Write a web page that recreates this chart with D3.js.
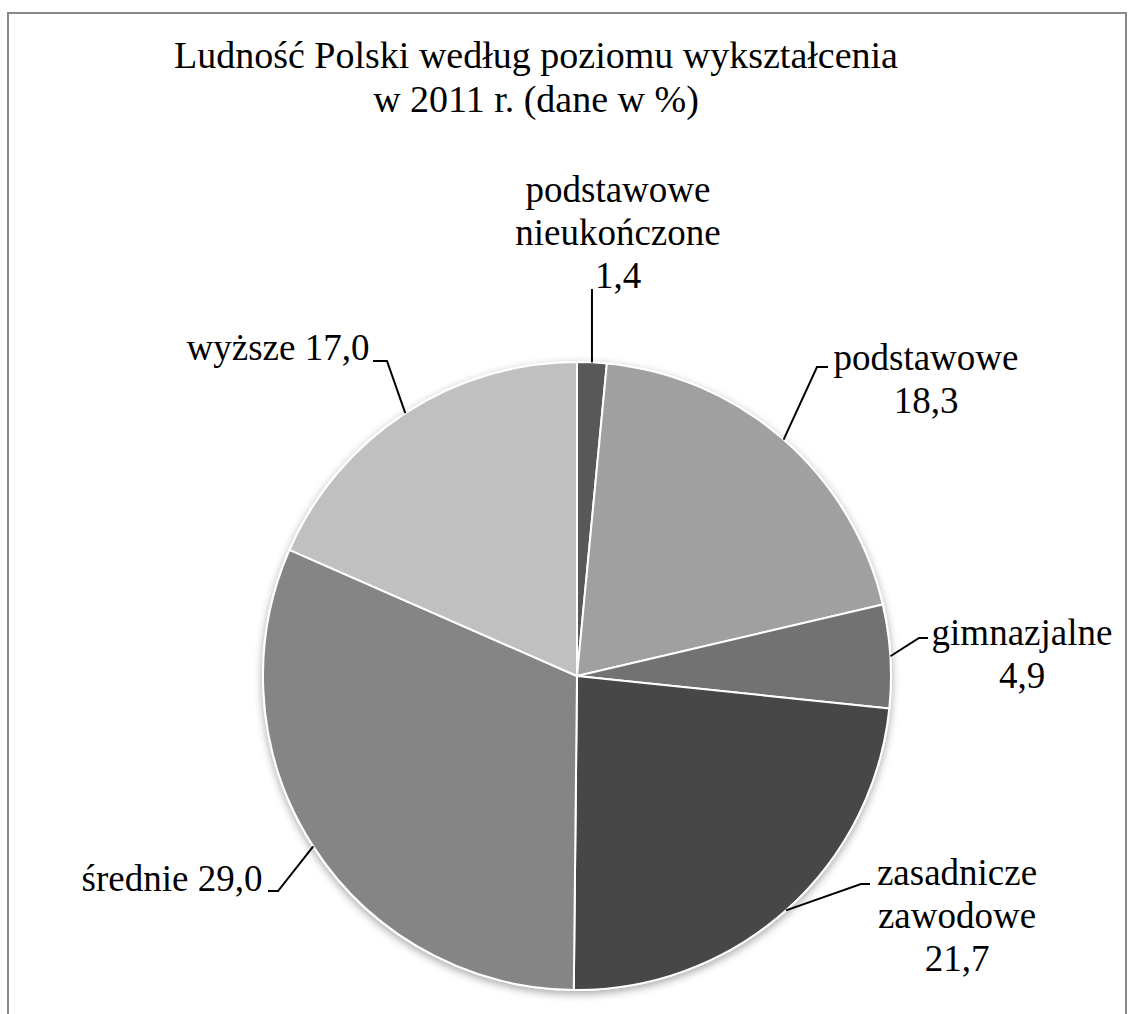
<!DOCTYPE html>
<html>
<head>
<meta charset="utf-8">
<script src="https://cdn.jsdelivr.net/npm/d3@7"></script>
<style>
  html, body { margin: 0; padding: 0; background: #fff; }
  svg { display: block; }
</style>
</head>
<body>
<svg id="chart" width="1133" height="1014"></svg>
<script>
// ---- data ----
const categories = ["podstawowe nieukończone", "podstawowe", "gimnazjalne", "zasadnicze zawodowe", "średnie", "wyższe"];
const values = [1.4, 18.3, 4.9, 21.7, 29.0, 17.0];
const valueLabels = ["1,4", "18,3", "4,9", "21,7", "29,0", "17,0"];
const labelLines = [
  ["podstawowe", "nieukończone", "1,4"],
  ["podstawowe", "18,3"],
  ["gimnazjalne", "4,9"],
  ["zasadnicze", "zawodowe", "21,7"],
  ["średnie 29,0"],
  ["wyższe 17,0"]
];
const titleLines = ["Ludność Polski według poziomu wykształcenia", "w 2011 r. (dane w %)"];

// ---- style / layout ----
const colors = ["#585858", "#a0a0a0", "#727272", "#464646", "#858585", "#c0c0c0"];
const cx = 577, cy = 676, R = 314;
const fontFamily = "'Liberation Serif', 'Times New Roman', serif";
const lineGap = 43;
// label anchor: text center x, first baseline y; leader: elbow points from label side
const labelLayout = [
  { x: 618, y: 202, leader: [[null, 289]] },
  { x: 926, y: 370, leader: [[828, 367], [817, 367]] },
  { x: 1022, y: 645, leader: [[928, 638], [919, 638]] },
  { x: 957, y: 885, leader: [[870, 884], [861, 884]] },
  { x: 172, y: 891, leader: [[268, 891], [278, 891]] },
  { x: 278, y: 360, leader: [[373, 361], [387, 361]] }
];

const svg = d3.select("#chart");

// shadow filter
const defs = svg.append("defs");
const f = defs.append("filter").attr("id", "shadow").attr("x", "-20%").attr("y", "-20%").attr("width", "140%").attr("height", "140%");
f.append("feDropShadow").attr("dx", 0).attr("dy", 3).attr("stdDeviation", 4).attr("flood-color", "#000").attr("flood-opacity", 0.35);

// outer border
svg.append("rect")
  .attr("x", 8).attr("y", 13).attr("width", 1118).attr("height", 1030)
  .attr("fill", "none").attr("stroke", "#898989").attr("stroke-width", 2);

// title
svg.append("text")
  .attr("x", 536).attr("y", 68)
  .attr("text-anchor", "middle")
  .attr("font-family", fontFamily).attr("font-size", 38).attr("fill", "#000")
  .selectAll("tspan").data(titleLines).join("tspan")
  .attr("x", 536).attr("dy", (d, i) => i === 0 ? 0 : 44)
  .text(d => d);

// pie
const pie = d3.pie().sort(null).value(d => d);
const arcs = pie(values);
const arc = d3.arc().innerRadius(0).outerRadius(R);
const edgeArc = d3.arc().innerRadius(R).outerRadius(R);

const g = svg.append("g").attr("transform", `translate(${cx},${cy})`);
g.append("g").attr("filter", "url(#shadow)")
  .selectAll("path").data(arcs).join("path")
  .attr("d", arc)
  .attr("fill", (d, i) => colors[i])
  .attr("stroke", "#fff").attr("stroke-width", 2).attr("stroke-linejoin", "round");

// leader lines
arcs.forEach((d, i) => {
  const [ex, ey] = edgeArc.centroid(d);
  const px = cx + ex, py = cy + ey;
  const lay = labelLayout[i];
  const pts = lay.leader.map(p => [p[0] === null ? px : p[0], p[1]]);
  pts.push([px, py]);
  svg.append("path")
    .attr("d", d3.line()(pts))
    .attr("fill", "none").attr("stroke", "#000").attr("stroke-width", 2);
});

// labels
labelLines.forEach((lines, i) => {
  const lay = labelLayout[i];
  svg.append("text")
    .attr("text-anchor", "middle")
    .attr("font-family", fontFamily).attr("font-size", 37).attr("fill", "#000")
    .selectAll("tspan").data(lines).join("tspan")
    .attr("x", lay.x).attr("y", (d, k) => lay.y + k * lineGap)
    .text(d => d);
});
</script>
</body>
</html>
